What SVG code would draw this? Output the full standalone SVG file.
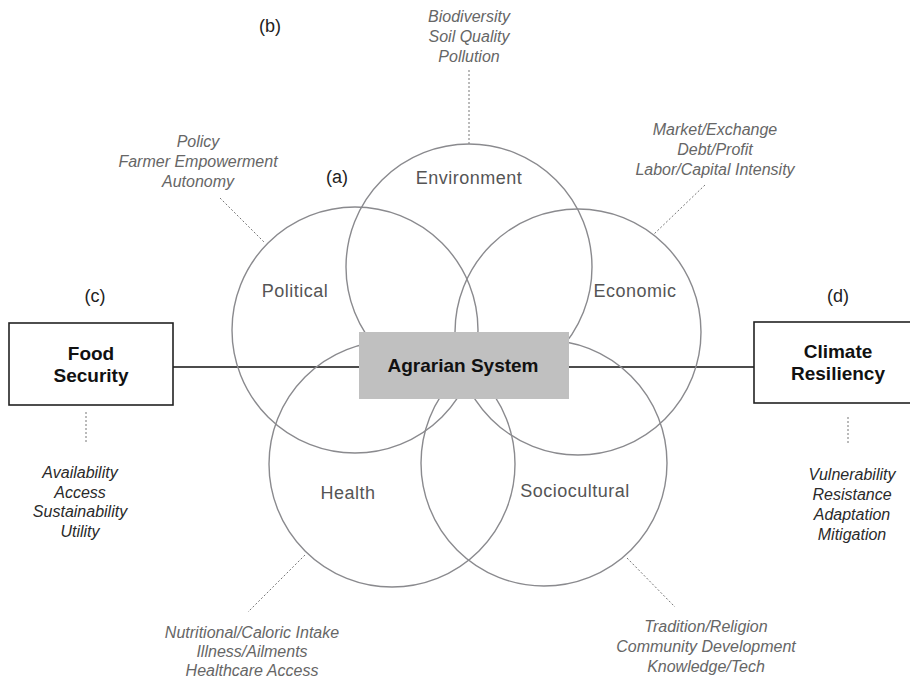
<svg xmlns="http://www.w3.org/2000/svg" width="910" height="678" viewBox="0 0 910 678">
<style>
.circ{fill:none;stroke:#8a8a8e;stroke-width:1.4}
.clab{font-family:"Liberation Sans",Arial,sans-serif;font-size:18px;fill:#555;letter-spacing:0.5px;text-anchor:middle}
.ann{font-family:"Liberation Sans",Arial,sans-serif;font-size:16px;font-style:italic;fill:#666;text-anchor:middle}
.ann2{font-family:"Liberation Sans",Arial,sans-serif;font-size:16px;font-style:italic;fill:#2a2a2a;text-anchor:middle}
.tag{font-family:"Liberation Sans",Arial,sans-serif;font-size:18px;fill:#222;text-anchor:middle}
.bold{font-family:"Liberation Sans",Arial,sans-serif;font-size:19px;font-weight:bold;fill:#111;text-anchor:middle}
.dot{stroke:#777;stroke-width:1;stroke-dasharray:2,2;fill:none}
.box{fill:#fff;stroke:#222;stroke-width:1.6}
.conn{stroke:#111;stroke-width:1.5;fill:none}
</style>
<rect width="910" height="678" fill="#fff"/>
<text class="tag" x="270" y="32">(b)</text>
<text class="tag" x="337" y="183">(a)</text>
<text class="tag" x="95" y="302">(c)</text>
<text class="tag" x="838" y="302">(d)</text>
<g id="connectors">
<line class="conn" x1="173" y1="367" x2="359" y2="367"/>
<line class="conn" x1="569" y1="367" x2="754" y2="367"/>
<line class="dot" x1="469" y1="70" x2="469" y2="144"/>
<line class="dot" x1="220" y1="198" x2="265" y2="243"/>
<line class="dot" x1="705" y1="185" x2="653" y2="235"/>
<line class="dot" x1="305" y1="555" x2="248" y2="612"/>
<line class="dot" x1="627" y1="558" x2="675" y2="607"/>
<line class="dot" x1="86" y1="412" x2="86" y2="444"/>
<line class="dot" x1="848" y1="417" x2="848" y2="445"/>
</g>
<g id="environment">
<circle class="circ" cx="469" cy="267" r="123"/>
<text class="clab" x="469" y="184">Environment</text>
<text class="ann" x="469" y="22">Biodiversity</text>
<text class="ann" x="469" y="42">Soil Quality</text>
<text class="ann" x="469" y="62">Pollution</text>
</g>
<g id="political">
<circle class="circ" cx="355" cy="330" r="123"/>
<text class="clab" x="295" y="297">Political</text>
<text class="ann" x="198" y="147">Policy</text>
<text class="ann" x="198" y="167">Farmer Empowerment</text>
<text class="ann" x="198" y="187">Autonomy</text>
</g>
<g id="economic">
<circle class="circ" cx="578" cy="332" r="123"/>
<text class="clab" x="635" y="297">Economic</text>
<text class="ann" x="715" y="135">Market/Exchange</text>
<text class="ann" x="715" y="155">Debt/Profit</text>
<text class="ann" x="715" y="175">Labor/Capital Intensity</text>
</g>
<g id="health">
<circle class="circ" cx="392" cy="464" r="123"/>
<text class="clab" x="348" y="499">Health</text>
<text class="ann" x="252" y="638">Nutritional/Caloric Intake</text>
<text class="ann" x="252" y="657">Illness/Ailments</text>
<text class="ann" x="252" y="676">Healthcare Access</text>
</g>
<g id="sociocultural">
<circle class="circ" cx="544" cy="463" r="123"/>
<text class="clab" x="575" y="497">Sociocultural</text>
<text class="ann" x="706" y="632">Tradition/Religion</text>
<text class="ann" x="706" y="652">Community Development</text>
<text class="ann" x="706" y="672">Knowledge/Tech</text>
</g>
<g id="agrarian-system">
<rect x="359" y="332" width="210" height="67" fill="#c0c0c0"/>
<text class="bold" x="463" y="372">Agrarian System</text>
</g>
<g id="food-security">
<rect class="box" x="9" y="323" width="164" height="82"/>
<text class="bold" x="91" y="360">Food</text>
<text class="bold" x="91" y="382">Security</text>
<text class="ann2" x="80" y="478">Availability</text>
<text class="ann2" x="80" y="498">Access</text>
<text class="ann2" x="80" y="517">Sustainability</text>
<text class="ann2" x="80" y="537">Utility</text>
</g>
<g id="climate-resiliency">
<rect class="box" x="754" y="322" width="170" height="81"/>
<text class="bold" x="838" y="358">Climate</text>
<text class="bold" x="838" y="380">Resiliency</text>
<text class="ann2" x="852" y="480">Vulnerability</text>
<text class="ann2" x="852" y="500">Resistance</text>
<text class="ann2" x="852" y="520">Adaptation</text>
<text class="ann2" x="852" y="540">Mitigation</text>
</g>
</svg>
